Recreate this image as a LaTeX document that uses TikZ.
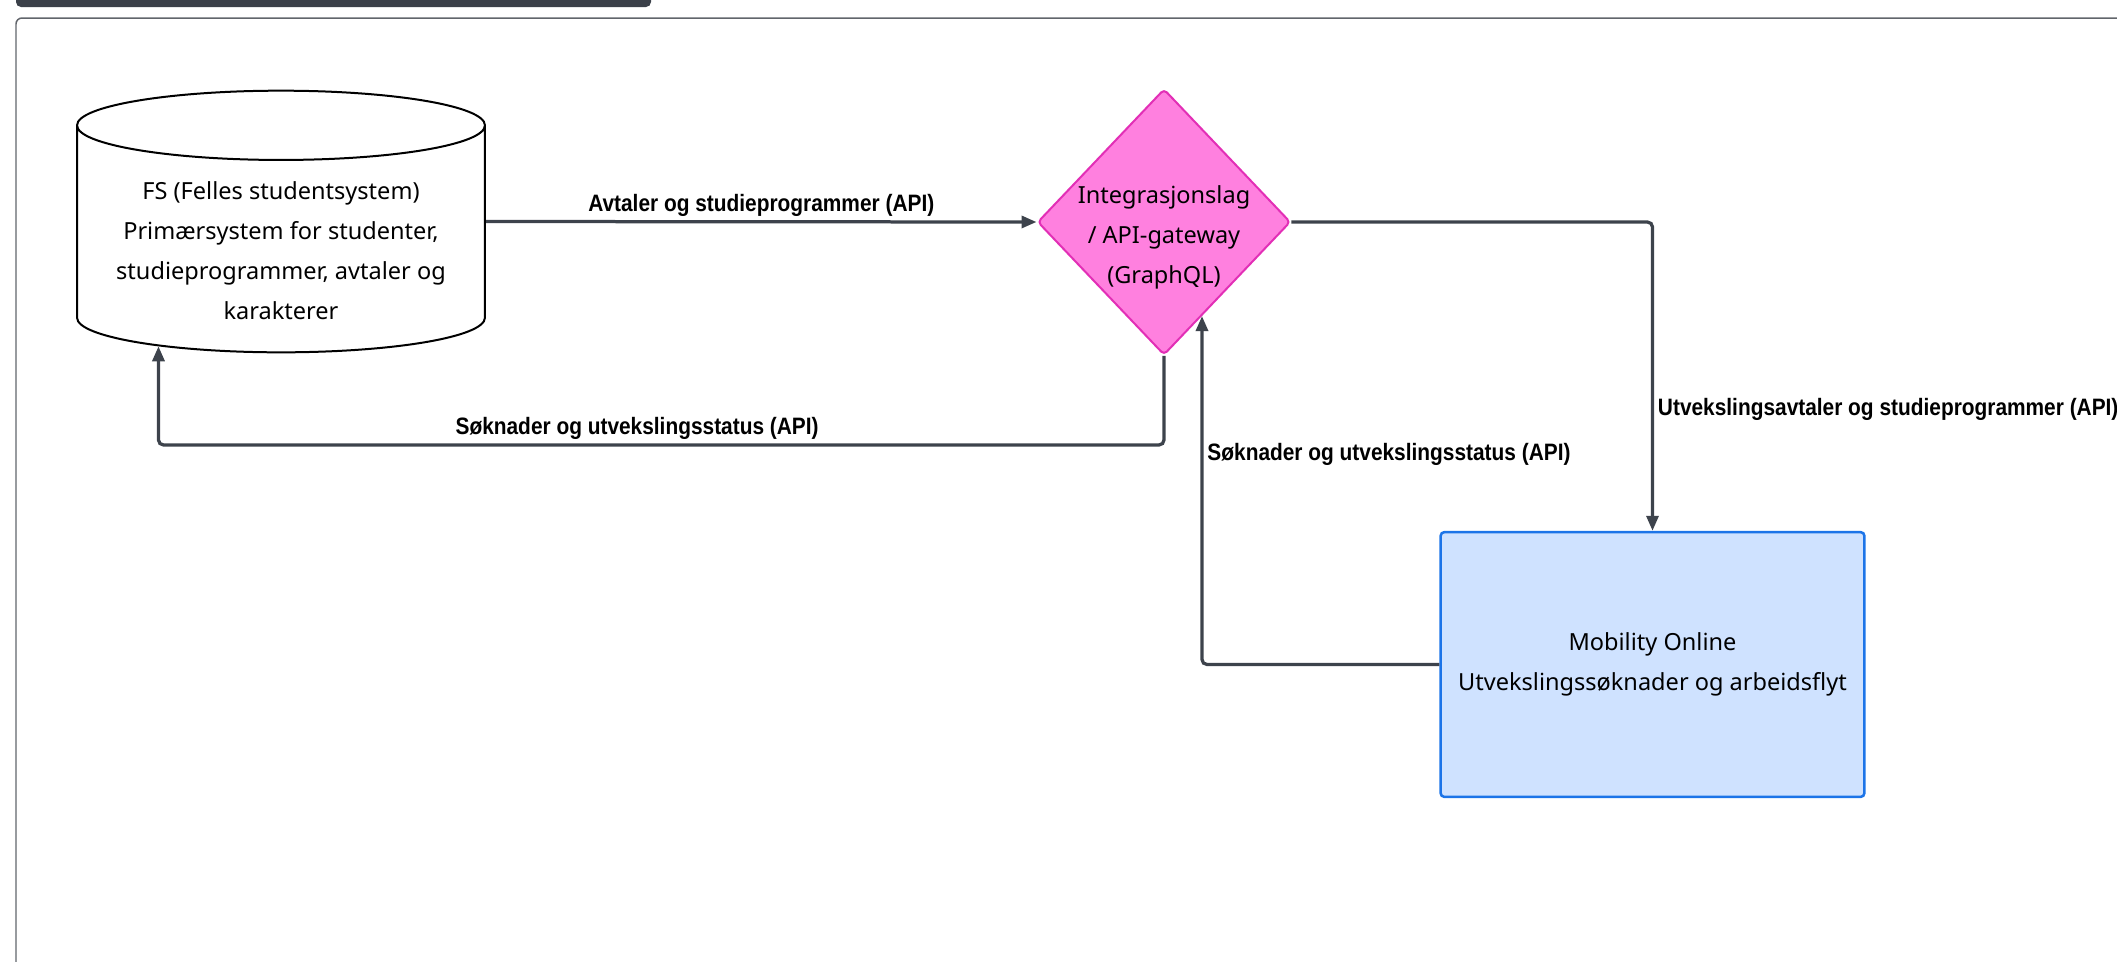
\documentclass[tikz,border=0pt]{standalone}
\usepackage{fontspec}
\usepackage{tikz}
\usetikzlibrary{shapes.geometric, arrows.meta}
\setmainfont{Noto Sans}
\newfontfamily\etikettfont[FakeStretch=0.88]{Liberation Sans}

\definecolor{strek}{RGB}{61,67,76}
\definecolor{rosa}{RGB}{255,128,223}
\definecolor{rosakant}{RGB}{226,47,182}
\definecolor{lysbla}{RGB}{207,226,255}
\definecolor{blakant}{RGB}{28,116,232}
\definecolor{ramme}{RGB}{97,101,107}
\definecolor{mork}{RGB}{59,64,73}

\begin{document}
\begin{tikzpicture}[x=0.02cm, y=-0.02cm,
        boks/.style={align=center, font=\fontsize{13.4}{22.8}\selectfont},
        pil/.style={draw=strek, line width=0.065cm, rounded corners=0.1cm, -{Triangle[length=0.3cm, width=0.24cm]}},
        etikett/.style={font=\etikettfont\bfseries\fontsize{13.5}{15}\selectfont}]
            % Ramme
            \useasboundingbox (0,0) rectangle (2117,961);
            \clip (0,0) rectangle (2117,961);
            \fill[mork, rounded corners=0.1cm] (16,-20) rectangle (651,7);
            \draw[ramme, line width=0.03cm, rounded corners=0.12cm] (16,18) rectangle (2160,1000);

            % Noder
            % FS (sylinder)
            \node[boks, cylinder, shape border rotate=90, aspect=0.203, draw=black, line width=0.04cm, fill=white,
                minimum width=8.16cm, minimum height=5.2cm, anchor=shape center] (fs) at (281,221.5)
                {\rule{0pt}{18.7pt}FS (Felles studentsystem)\\Primærsystem for studenter,\\studieprogrammer, avtaler og\\karakterer};
            % Integrasjonslag (rombe)
            \node[diamond, draw=rosakant, fill=rosa, line width=0.04cm, rounded corners=0.08cm,
                minimum width=5.06cm, minimum height=5.32cm] (gw) at (1164,222) {};
            \node[boks] (gwtekst) at ([yshift=-0.3cm]gw.center) {Integrasjonslag\\/ API-gateway\\(GraphQL)};
            % Mobility Online
            \node[boks, draw=blakant, fill=lysbla, line width=0.05cm, rounded corners=0.08cm,
                minimum width=8.48cm, minimum height=5.3cm] (mo) at (1652.5,664.5)
                {Mobility Online\\Utvekslingssøknader og arbeidsflyt};

            % Piler
            \draw[pil] (fs.shape center -| fs.east) -- node[etikett, midway, yshift=0.32cm] {Avtaler og studieprogrammer (API)} (gw.west);
            \draw[pil] (gw.east) -| node[etikett, pos=0.804, anchor=west, xshift=-0.04cm] {Utvekslingsavtaler og studieprogrammer (API)} (mo.north);
            \draw[pil] (mo.west) -| node[etikett, pos=0.802, anchor=west, xshift=-0.04cm] {Søknader og utvekslingsstatus (API)} (gw.-68);
            \draw[pil] (gw.south) -- ++(0,89) -| node[etikett, pos=0.262, yshift=0.34cm] {Søknader og utvekslingsstatus (API)} (fs.-140.5);
\end{tikzpicture}
\end{document}
